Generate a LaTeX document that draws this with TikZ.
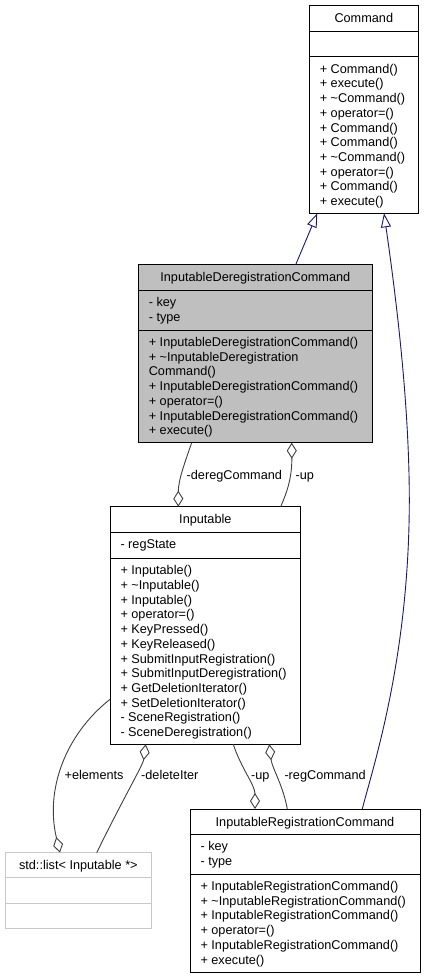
\documentclass[tikz,border=0pt]{standalone}
\usepackage{fontspec}
\setmainfont{Liberation Sans}
\usetikzlibrary{arrows.meta,calc}
\definecolor{navyline}{HTML}{191970}
\definecolor{edgegray}{HTML}{404040}
\definecolor{boxgray}{HTML}{BFBFBF}
\definecolor{listgray}{HTML}{C8C8C8}
\newcommand\dfont{\fontsize{12.7}{14.7}\selectfont}
\newcommand\mystrut{\rule{0pt}{10pt}}
\begin{document}
\begin{tikzpicture}[x=1pt,y=-1pt,
  box/.style={draw=black, line width=1pt, rectangle, inner sep=0pt, outer sep=0pt},
  listbox/.style={draw=listgray, line width=1pt, rectangle, inner sep=0pt, outer sep=0pt},
  divider/.style={draw=black, line width=1pt},
  listdivider/.style={draw=listgray, line width=1pt},
  title/.style={anchor=base, inner sep=0pt, font=\dfont},
  members/.style={anchor=north west, inner sep=0pt, align=left, font=\dfont},
  lbl/.style={anchor=base west, inner sep=0pt, font=\dfont},
  inherit/.style={draw=navyline, line width=0.9pt, -{Triangle[open,length=14pt,width=10pt]}},
  agg/.style={draw=edgegray, line width=0.9pt},
  dia/.tip={Diamond[open,length=16pt,width=10pt]}]

\useasboundingbox[fill=white] (0,0) rectangle (426,979);

% ---------- Command ----------
\node[box, minimum width=109pt, minimum height=207.6pt] (cmd) at (363.8,109.5) {};
\draw[divider] ($(cmd.north west)+(0,26)$) -- ($(cmd.north east)+(0,26)$);
\draw[divider] ($(cmd.north west)+(0,51)$) -- ($(cmd.north east)+(0,51)$);
\node[title] (cmd-t) at (363.8,22.5) {Command};
\node[members] (cmd-m) at (319.6,63) {\mystrut+ Command()\\+ execute()\\+ \textasciitilde Command()\\+ operator=()\\+ Command()\\+ Command()\\+ \textasciitilde Command()\\+ operator=()\\+ Command()\\+ execute()};

% ---------- InputableDeregistrationCommand ----------
\node[box, fill=boxgray, minimum width=234pt, minimum height=178pt] (idc) at (255.3,353.7) {};
\draw[divider] ($(idc.north west)+(0,25.3)$) -- ($(idc.north east)+(0,25.3)$);
\draw[divider] ($(idc.north west)+(0,65.3)$) -- ($(idc.north east)+(0,65.3)$);
\node[title] (idc-t) at (255.3,281.5) {InputableDeregistrationCommand};
\node[members] (idc-a) at (148.6,296.3) {\mystrut- key\\- type};
\node[members] (idc-m) at (148.6,336.3) {\mystrut+ InputableDeregistrationCommand()\\+ \textasciitilde InputableDeregistration\\Command()\\+ InputableDeregistrationCommand()\\+ operator=()\\+ InputableDeregistrationCommand()\\+ execute()};

% ---------- Inputable ----------
\node[box, minimum width=190.7pt, minimum height=237.6pt] (inp) at (205.35,625.5) {};
\draw[divider] ($(inp.north west)+(0,25.6)$) -- ($(inp.north east)+(0,25.6)$);
\draw[divider] ($(inp.north west)+(0,51.6)$) -- ($(inp.north east)+(0,51.6)$);
\node[title] (inp-t) at (205.35,523.5) {Inputable};
\node[members] (inp-a) at (120.3,538.6) {\mystrut- regState};
\node[members] (inp-m) at (120.3,564.6) {\mystrut+ Inputable()\\+ \textasciitilde Inputable()\\+ Inputable()\\+ operator=()\\+ KeyPressed()\\+ KeyReleased()\\+ SubmitInputRegistration()\\+ SubmitInputDeregistration()\\+ GetDeletionIterator()\\+ SetDeletionIterator()\\- SceneRegistration()\\- SceneDeregistration()};

% ---------- InputableRegistrationCommand ----------
\node[box, minimum width=230pt, minimum height=163.3pt] (irc) at (305,890.65) {};
\draw[divider] ($(irc.north west)+(0,25)$) -- ($(irc.north east)+(0,25)$);
\draw[divider] ($(irc.north west)+(0,65)$) -- ($(irc.north east)+(0,65)$);
\node[title] (irc-t) at (305,826) {InputableRegistrationCommand};
\node[members] (irc-a) at (200.3,840.3) {\mystrut- key\\- type};
\node[members] (irc-m) at (200.3,880.3) {\mystrut+ InputableRegistrationCommand()\\+ \textasciitilde InputableRegistrationCommand()\\+ InputableRegistrationCommand()\\+ operator=()\\+ InputableRegistrationCommand()\\+ execute()};

% ---------- std::list ----------
\node[listbox, minimum width=146.7pt, minimum height=75.6pt] (lst) at (78.35,890.5) {};
\draw[listdivider] ($(lst.north west)+(0,25)$) -- ($(lst.north east)+(0,25)$);
\draw[listdivider] ($(lst.north west)+(0,50.6)$) -- ($(lst.north east)+(0,50.6)$);
\node[title] (lst-t) at (78.35,869.5) {std::list< Inputable *>};

% ---------- inheritance ----------
\draw[inherit] ([xshift=157.4pt]idc.north west) -- ([xshift=8pt]cmd.south west);
\draw[inherit] ([xshift=172.3pt]irc.north west) .. controls (372,770) and (409.3,660) .. (409.3,500)
  .. controls (409.3,400) and (395,290) .. ([xshift=74.7pt]cmd.south west);

% ---------- aggregations ----------
\draw[agg, -dia] ([xshift=53.4pt]idc.south west) .. controls (185,462) and (178.3,480) .. ([xshift=68.3pt]inp.north west);
\node[lbl] (l-dereg) at (186.5,479.3) {-deregCommand};
\draw[agg, dia-] ([xshift=153.4pt]idc.south west) .. controls (292,478) and (287,492) .. ([xshift=170.7pt]inp.north west);
\node[lbl] (l-up1) at (295.5,479.3) {-up};

\draw[agg, -dia] ($(inp.north west)+(0,192.6)$) .. controls (65,735) and (45,790) .. ([xshift=55pt]lst.north west);
\node[lbl] (l-elem) at (64.4,779.3) {+elements};
\draw[agg, dia-] ([xshift=35.7pt]inp.south west) .. controls (143,765) and (125,795) .. ([xshift=91.7pt]lst.north west);
\node[lbl] (l-del) at (141,779.3) {-deleteIter};

\draw[agg, -dia] ([xshift=123.3pt]inp.south west) .. controls (241,768) and (255,785) .. ([xshift=65pt]irc.north west);
\node[lbl] (l-up2) at (251,779.3) {-up};
\draw[agg, dia-] ([xshift=159.3pt]inp.south west) .. controls (272,768) and (283,785) .. ([xshift=97.3pt]irc.north west);
\node[lbl] (l-reg) at (284.3,779.3) {-regCommand};

\end{tikzpicture}
\end{document}
